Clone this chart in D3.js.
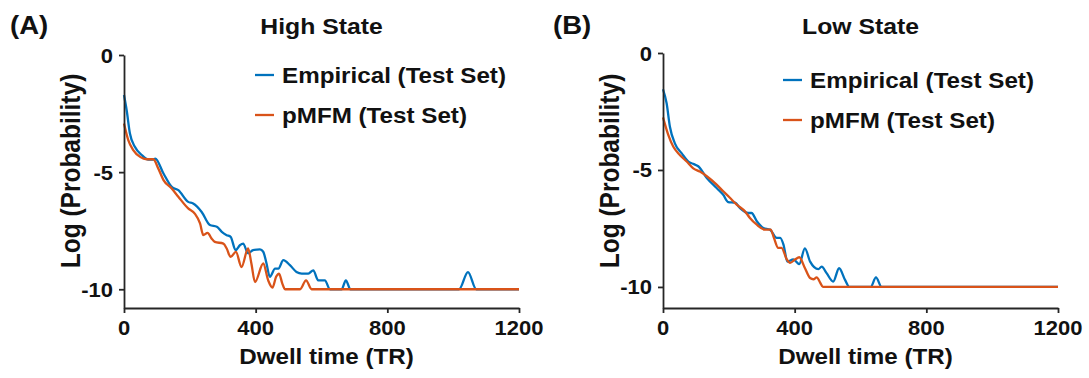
<!DOCTYPE html>
<html><head><meta charset="utf-8">
<script src="https://cdn.jsdelivr.net/npm/d3@7"></script>
<style>body{margin:0;background:#fff}svg{display:block}text{font-family:"Liberation Sans",Arial,sans-serif;font-weight:bold;fill:#111}</style>
</head><body><svg id="c" width="1089" height="378"></svg>
<script>
const xTicks = [0, 400, 800, 1200];
const yTicks = [0, -5, -10];
const titles = ["High State", "Low State"];
const panelLabels = ["(A)", "(B)"];
const legendLabels = ["Empirical (Test Set)", "pMFM (Test Set)"];
const xTitle = "Dwell time (TR)";
const yTitle = "Log (Probability)";

const highEmpT = [0, 8, 18, 33, 54, 74, 89, 95, 120, 145, 165, 195, 210, 236, 261, 282, 297, 312, 324, 339, 352, 362, 377, 392, 413, 423, 433, 443, 459, 469, 484, 504, 524, 540, 560, 575, 590, 610, 626, 661, 674, 688, 1018, 1045, 1070, 1200];
const highEmpY = [-1.71, -2.35, -3.35, -3.92, -4.27, -4.46, -4.46, -4.42, -5.06, -5.63, -5.77, -6.27, -6.34, -6.7, -7.26, -7.33, -7.55, -7.69, -7.76, -8.33, -8.12, -8.05, -8.47, -8.33, -8.3, -8.4, -8.9, -9.47, -9.12, -9.12, -8.76, -8.97, -9.26, -9.33, -9.33, -9.19, -9.62, -9.62, -10, -10, -9.62, -10, -10, -9.27, -10, -10];
const highPmT = [0, 13, 28, 49, 69, 89, 104, 120, 145, 165, 195, 215, 231, 241, 254, 266, 276, 302, 312, 324, 340, 357, 377, 387, 398, 423, 438, 451, 462, 471, 481, 489, 535, 553, 570, 1200];
const highPmY = [-2.92, -3.63, -4.06, -4.35, -4.45, -4.45, -4.84, -5.34, -5.7, -6.05, -6.55, -6.77, -7.19, -7.69, -7.59, -7.83, -7.98, -8.05, -8.26, -8.62, -8.4, -9.05, -8.26, -8.9, -9.69, -8.9, -9.62, -9.93, -9.47, -9.33, -9.76, -10, -10, -9.62, -10, -10];
const lowEmpT = [0, 11, 21, 36, 57, 77, 92, 107, 133, 163, 183, 198, 219, 234, 259, 269, 285, 305, 325, 345, 356, 366, 378, 396, 414, 431, 447, 472, 482, 497, 517, 535, 553, 566, 631, 647, 664, 1200];
const lowEmpY = [-1.55, -2.15, -3.15, -3.86, -4.29, -4.64, -4.74, -4.84, -5.34, -5.77, -6.06, -6.37, -6.4, -6.63, -6.84, -6.84, -7.19, -7.48, -7.55, -7.9, -7.9, -8.19, -8.92, -8.82, -9.02, -8.35, -8.92, -9.24, -9.13, -9.41, -9.77, -9.2, -9.7, -10, -10, -9.59, -10, -10];
const lowPmT = [0, 16, 31, 51, 72, 92, 112, 133, 163, 183, 204, 224, 249, 264, 285, 310, 327, 337, 350, 360, 376, 386, 401, 414, 431, 447, 457, 467, 477, 486, 1200];
const lowPmY = [-2.75, -3.5, -4.0, -4.36, -4.64, -4.93, -5.07, -5.27, -5.63, -5.91, -6.2, -6.48, -6.77, -7.05, -7.34, -7.55, -7.55, -7.9, -8.33, -8.33, -8.82, -8.97, -8.83, -8.73, -9.19, -9.62, -9.67, -9.59, -9.8, -10, -10];

const colors = ["#0072BD", "#D95319"];
const SX = 1.1;
const svg = d3.select("#c");
svg.append("rect").attr("width",1089).attr("height",378).attr("fill","#fff");

const panels = [
  {x0:124, x1:519, yTop:55, yDom:-10.8, series:[[highEmpT,highEmpY],[highPmT,highPmY]], lab:10, legX:255, legY:[75,115]},
  {x0:663, x1:1058, yTop:53, yDom:-10.9, series:[[lowEmpT,lowEmpY],[lowPmT,lowPmY]], lab:553, legX:783, legY:[80,120]}
];
const yBottom = 308;

function txt(g, s, x, y, size, anchor, rot) {
  return g.append("text").attr("transform", rot ? `translate(${x},${y}) rotate(-90) scale(1,${SX})` : `translate(${x},${y}) scale(${SX},1)`)
    .attr("font-size", size).attr("text-anchor", anchor || "start").text(s);
}

panels.forEach((p, i) => {
  const g = svg.append("g");
  const x = d3.scaleLinear().domain([0,1200]).range([p.x0, p.x1]);
  const y = d3.scaleLinear().domain([p.yDom, 0]).range([yBottom, p.yTop]);
  const line = d3.line().x(d=>x(d[0])).y(d=>y(d[1])).curve(d3.curveMonotoneX);
  p.series.forEach((s, k) => {
    const pts = s[0].map((t, j) => [t, s[1][j]]);
    g.append("path").attr("d", line(pts)).attr("fill","none").attr("stroke",colors[k]).attr("stroke-width",2.3).attr("stroke-linejoin","round");
  });
  const xa = g.append("g").attr("transform",`translate(0,${yBottom})`).call(d3.axisBottom(x).tickValues(xTicks).tickSize(5).tickSizeOuter(0));
  const ya = g.append("g").attr("transform",`translate(${p.x0},0)`).call(d3.axisLeft(y).tickValues(yTicks).tickSize(5).tickSizeOuter(0));
  [xa, ya].forEach(a => {
    a.select(".domain").attr("stroke","#262626").attr("stroke-width",1.8);
    a.selectAll(".tick line").attr("stroke","#262626").attr("stroke-width",1.8);
    a.selectAll(".tick text").remove();
  });
  xTicks.forEach(v => txt(g, String(v), x(v), 335, 20, "middle"));
  yTicks.forEach(v => txt(g, String(v), p.x0-11, y(v)+7.5, 20, "end"));
  txt(g, titles[i], (p.x0+p.x1)/2, 34, 22.5, "middle");
  txt(g, panelLabels[i], p.lab, 34, 25, "start");
  txt(g, xTitle, (p.x0+p.x1)/2 + 5, 364, 22, "middle");
  txt(g, yTitle, p.x0-44, 171, 24.5, "middle", true);
  legendLabels.forEach((l, k) => {
    g.append("line").attr("x1",p.legX).attr("x2",p.legX+19).attr("y1",p.legY[k]).attr("y2",p.legY[k]).attr("stroke",colors[k]).attr("stroke-width",2.3);
    txt(g, l, p.legX+27, p.legY[k]+8, 22, "start");
  });
});
</script></body></html>
